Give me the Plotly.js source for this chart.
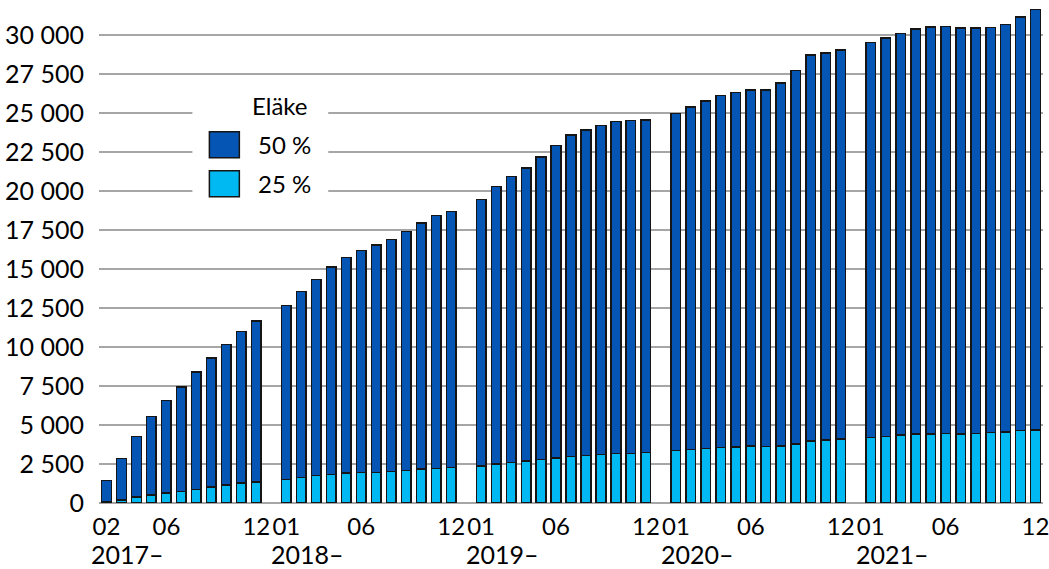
<!DOCTYPE html>
<html>
<head>
<meta charset="utf-8">
<script src="https://cdn.plot.ly/plotly-3.0.1.min.js"></script>
<style>
html,body{margin:0;padding:0;background:#fff;}
#chart{width:1049px;height:569px;}
</style>
</head>
<body>
<div id="chart"></div>
<script>
// ---- data ----
const years = ['2017', '2018', '2019', '2020', '2021'];
const months2017 = ['02','03','04','05','06','07','08','09','10','11','12'];
const monthsAll = ['01','02','03','04','05','06','07','08','09','10','11','12'];

// 25 % pension (bottom segment)
const p25_2017 = [60, 200, 370, 525, 630, 740, 870, 1015, 1170, 1270, 1335];
const p25_2018 = [1520, 1650, 1750, 1840, 1910, 1970, 1970, 2035, 2100, 2180, 2225, 2270];
const p25_2019 = [2375, 2500, 2610, 2700, 2800, 2890, 2970, 3040, 3100, 3170, 3190, 3230];
const p25_2020 = [3360, 3420, 3510, 3570, 3595, 3640, 3615, 3660, 3790, 3980, 4045, 4110];
const p25_2021 = [4190, 4260, 4365, 4430, 4430, 4470, 4410, 4450, 4515, 4560, 4640, 4690];

// 50 % pension (top segment)
const p50_2017 = [1390, 2660, 3900, 5025, 5950, 6690, 7530, 8285, 9010, 9740, 10335];
const p50_2018 = [11130, 11900, 12570, 13290, 13840, 14230, 14590, 14865, 15300, 15780, 16200, 16430];
const p50_2019 = [17075, 17790, 18340, 18790, 19390, 20050, 20630, 20890, 21120, 21290, 21350, 21340];
const p50_2020 = [21610, 21960, 22280, 22560, 22745, 22850, 22855, 23260, 23960, 24740, 24825, 24950];
const p50_2021 = [25340, 25550, 25745, 25960, 26090, 26090, 26040, 26000, 25985, 26110, 26540, 26960];

const tickMonths = ['02','06','12', '01','06','12', '01','06','12', '01','06','12', '01','06','12'];
const yearLabels = ['2017–', '2018–', '2019–', '2020–', '2021–'];
const legendTitle = 'Eläke';
const name50 = '50 %';
const name25 = '25 %';

// ---- build ----
const monthsPerYear = [months2017, monthsAll, monthsAll, monthsAll, monthsAll];
const p25 = [p25_2017, p25_2018, p25_2019, p25_2020, p25_2021];
const p50 = [p50_2017, p50_2018, p50_2019, p50_2020, p50_2021];

const cats = [], xs = [], y25 = [], y50 = [];
years.forEach((yr, i) => {
  monthsPerYear[i].forEach((m, j) => {
    const c = yr + '-' + m;
    cats.push(c); xs.push(c);
    y25.push(p25[i][j]); y50.push(p50[i][j]);
  });
  if (i < years.length - 1) cats.push(yr + '-gap');
});
const tickvals = tickMonths.map((m, k) => years[Math.floor(k / 3)] + '-' + m);

const dark = '#0556b4', light = '#00b9f2', edge = '#151515';

const traces = [
  {type: 'bar', name: name25, x: xs, y: y25, marker: {color: light, line: {color: edge, width: 1.5}}, hoverinfo: 'x+y+name'},
  {type: 'bar', name: name50, x: xs, y: y50, marker: {color: dark, line: {color: edge, width: 1.5}}, hoverinfo: 'x+y+name'}
];

// layout helpers (pixel -> paper)
const ML = 98.5, MR = 5.5, MT = 4.4, MB = 66, W = 1049, H = 569;
const PW = W - ML - MR, PH = H - MT - MB;
const px = v => (v - ML) / PW;
const py = v => (H - MB - v) / PH;

const annotations = yearLabels.map((t, i) => ({
  text: t, x: years[i] + '-' + monthsPerYear[i][0], xref: 'x', y: py(554), yref: 'paper',
  xanchor: 'left', yanchor: 'middle', xshift: -16,
  showarrow: false, borderpad: 0, font: {size: 25}
}));
annotations.push(
  {text: legendTitle, x: px(250), y: py(106), xref: 'paper', yref: 'paper', xanchor: 'left', yanchor: 'middle', showarrow: false, font: {size: 24}},
  {text: name50, x: px(256), y: py(145), xref: 'paper', yref: 'paper', xanchor: 'left', yanchor: 'middle', showarrow: false, font: {size: 24}},
  {text: name25, x: px(256), y: py(184), xref: 'paper', yref: 'paper', xanchor: 'left', yanchor: 'middle', showarrow: false, font: {size: 24}}
);

const shapes = [
  {type: 'rect', xref: 'paper', yref: 'paper', x0: px(192), x1: px(328), y0: py(205), y1: py(85), fillcolor: '#fff', line: {width: 0}, layer: 'above'},
  {type: 'rect', xref: 'paper', yref: 'paper', x0: px(209), x1: px(239), y0: py(158), y1: py(132), fillcolor: dark, line: {color: edge, width: 1.5}, layer: 'above'},
  {type: 'rect', xref: 'paper', yref: 'paper', x0: px(209), x1: px(239), y0: py(197), y1: py(171), fillcolor: light, line: {color: edge, width: 1.5}, layer: 'above'}
];

const layout = {
  width: W, height: H,
  margin: {l: ML, r: MR, t: MT, b: MB, pad: 0},
  paper_bgcolor: '#fff', plot_bgcolor: '#fff',
  barmode: 'stack', bargap: 0.36,
  separators: ', ',
  showlegend: false,
  font: {family: 'Lato, sans-serif', size: 24, color: '#000'},
  xaxis: {
    type: 'category', categoryorder: 'array', categoryarray: cats,
    range: [-0.5, cats.length - 0.5],
    tickmode: 'array', tickvals: tickvals, ticktext: tickMonths,
    showgrid: false, zeroline: false, showline: false, ticks: '',
    ticklabelstandoff: 7, tickfont: {size: 24}, fixedrange: true
  },
  yaxis: {
    range: [0, 32000], tickmode: 'linear', tick0: 0, dtick: 2500,
    tickformat: ',d', separatethousands: true, exponentformat: 'none',
    showgrid: true, gridcolor: '#a6a6a6', gridwidth: 2,
    zeroline: true, zerolinecolor: '#a6a6a6', zerolinewidth: 2,
    showline: false, ticks: '', ticklabelstandoff: 14,
    tickfont: {size: 25}, fixedrange: true
  },
  annotations: annotations,
  shapes: shapes
};

Plotly.newPlot('chart', traces, layout, {displayModeBar: false, staticPlot: true});
</script>
</body>
</html>
